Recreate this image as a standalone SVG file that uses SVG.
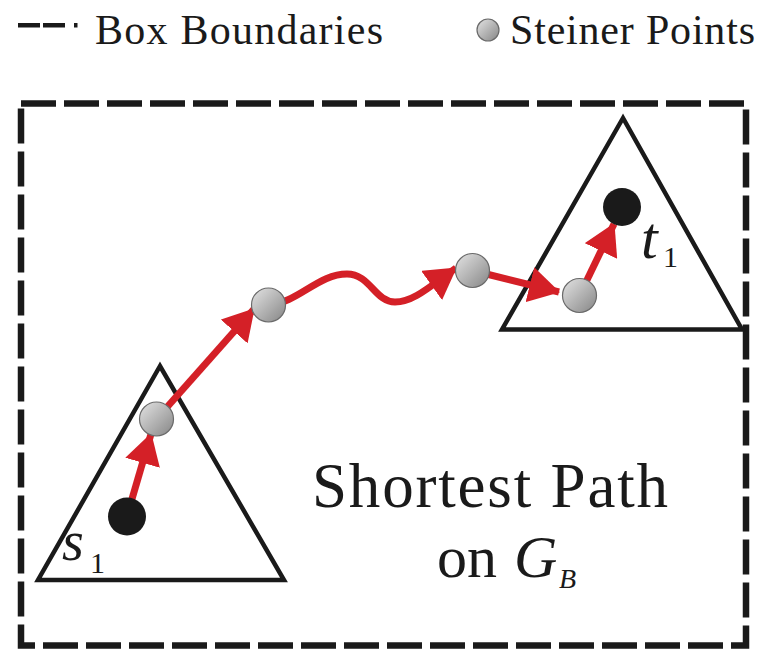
<svg xmlns="http://www.w3.org/2000/svg" width="760" height="654" viewBox="0 0 760 654">
  <style>
    text { fill: #1a1a1a; font-family: "Liberation Serif", "Times New Roman", serif; }
    .it { font-style: italic; }
    .tri { fill: none; stroke: #1a1a1a; stroke-width: 4.5; stroke-linejoin: miter; }
    .edge { fill: none; stroke: #d42027; stroke-width: 7; marker-end: url(#arrow); }
    .steiner { fill: url(#grey); stroke: #6a6a6a; stroke-width: 1.2; }
    .term { fill: #1a1a1a; }
  </style>
  <defs>
    <linearGradient id="grey" x1="0" y1="0" x2="1" y2="1">
      <stop offset="0" stop-color="#e4e4e4"/>
      <stop offset="1" stop-color="#858585"/>
    </linearGradient>
    <marker id="arrow" viewBox="0 -18 32 36" refX="30" refY="0" markerWidth="32" markerHeight="36" markerUnits="userSpaceOnUse" orient="auto">
      <path d="M0,-18 L31,0 L0,18 Z" fill="#d42027"/>
    </marker>
  </defs>

  <g id="legend">
    <rect x="18" y="23" width="22" height="4.5" fill="#1a1a1a"/>
    <rect x="43" y="23" width="22" height="4.5" fill="#1a1a1a"/>
    <rect x="74" y="23" width="3.5" height="4.5" fill="#1a1a1a"/>
    <text x="95" y="44" font-size="42" textLength="288" lengthAdjust="spacing">Box Boundaries</text>
    <circle class="steiner" cx="488" cy="30" r="11"/>
    <text x="510" y="44" font-size="42" textLength="245" lengthAdjust="spacing">Steiner Points</text>
  </g>

  <g id="box">
    <rect x="21" y="103.5" width="725" height="542" fill="none" stroke="#1a1a1a" stroke-width="6.5" stroke-dasharray="35 8"/>
  </g>

  <g id="source-triangle">
    <polygon class="tri" points="160,366 38,580 284,580"/>
  </g>
  <g id="target-triangle">
    <polygon class="tri" points="623,118 502,329.5 742,329.5"/>
  </g>

  <g id="connectors">
    <path class="edge" d="M127,516 L151,434"/>
    <path class="edge" d="M156.5,419 L254,309"/>
    <path class="edge" d="M268.5,305 C298,303 318,274 347,274 C370,274 375,302 395,302 C413,302 428,288 456,268"/>
    <path class="edge" d="M472.5,270.5 L559,292"/>
    <path class="edge" d="M579.5,295.5 L614,224"/>
  </g>

  <g id="s1">
    <circle class="term" cx="127" cy="516.5" r="19"/>
    <text class="it" x="62" y="560" font-size="56">s</text>
    <text x="90" y="573" font-size="30">1</text>
  </g>
  <g id="t1">
    <circle class="term" cx="622" cy="207" r="19"/>
    <text class="it" x="641" y="258" font-size="60">t</text>
    <text x="663" y="267" font-size="30">1</text>
  </g>

  <g id="steiner1"><circle class="steiner" cx="156.5" cy="419" r="17"/></g>
  <g id="steiner2"><circle class="steiner" cx="268.5" cy="305" r="17"/></g>
  <g id="steiner3"><circle class="steiner" cx="472.5" cy="270.5" r="17"/></g>
  <g id="steiner4"><circle class="steiner" cx="579.5" cy="295.5" r="17"/></g>

  <g id="label">
    <text x="312" y="507" font-size="63" textLength="356" lengthAdjust="spacing">Shortest Path</text>
    <text x="437" y="577" font-size="60">on</text>
    <text class="it" x="514" y="577" font-size="60">G</text>
    <text class="it" x="559" y="588" font-size="28">B</text>
  </g>
</svg>
